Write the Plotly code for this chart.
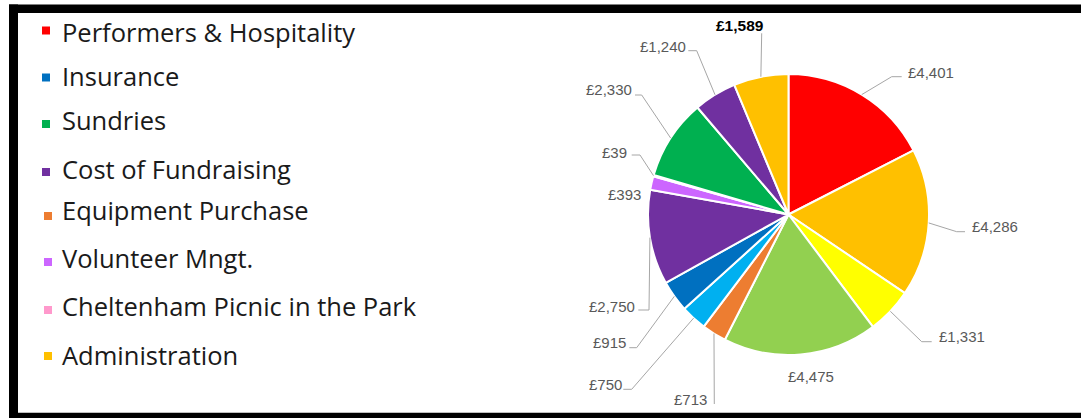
import math
import plotly.graph_objects as go

# ---------------- data (pie slices, clockwise from 12 o'clock) ----------------
slice_names = [
    "Performers & Hospitality", "Category B", "Category C", "Category D",
    "Equipment Purchase", "Category F", "Insurance", "Cost of Fundraising",
    "Volunteer Mngt.", "Cheltenham Picnic in the Park", "Sundries",
    "Category L", "Administration",
]
slice_values = [4401, 4286, 1331, 4475, 713, 750, 915, 2750, 393, 39, 2330, 1240, 1589]
slice_colors = [
    "#FF0000", "#FFC000", "#FFFF00", "#92D050", "#ED7D31", "#00B0F0", "#0070C0",
    "#7030A0", "#CC66FF", "#FF99CC", "#00B050", "#7030A0", "#FFC000",
]

# ---------------- legend (as shown on the slide) ----------------
legend_names = [
    "Performers & Hospitality", "Insurance", "Sundries", "Cost of Fundraising",
    "Equipment Purchase", "Volunteer Mngt.", "Cheltenham Picnic in the Park",
    "Administration",
]
legend_colors = ["#FF0000", "#0070C0", "#00B050", "#7030A0", "#ED7D31", "#CC66FF", "#FF99CC", "#FFC000"]

# ---------------- layout / style (pixels) ----------------
W, H = 1081, 418
CX, CY, R = 788.5, 214.5, 140.5

legend_text_y = [32.5, 76, 120.5, 169, 210, 258, 305.5, 354.5]
legend_square = [(46, 30.5), (46, 77.5), (46, 124), (46, 172), (48, 216), (48, 262), (48, 310), (48, 356)]
legend_text_x = 60

# data-label placement: label centre and leader-line bend/end points
label_style = [
    ((931, 72.5), [(891.7, 76.7), (901.7, 76.7)]),
    ((995, 226), [(956.7, 231.7), (965, 231.7)]),
    ((962, 336), [(921.7, 341.7), (931.7, 341.7)]),
    ((811, 376), []),
    ((690, 399), [(714.3, 404)]),
    ((605, 384), [(631.7, 389.3), (623.3, 389.3)]),
    ((609, 342), [(636.7, 347.7), (629.3, 347.7)]),
    ((612, 306), [(649, 310), (638.3, 310)]),
    ((624, 194), []),
    ((614, 152), [(640, 155), (631.7, 155)]),
    ((609, 89.5), [(641.7, 95), (635, 95)]),
    ((662.5, 46), [(696.7, 50.7), (688.3, 50.7)]),
    ((740, 25.7), [(761.7, 33.3)]),
]
bold_labels = [False] * 12 + [True]


def fx(x):
    return x / W


def fy(y):
    return 1 - y / H


fig = go.Figure()
fig.add_trace(go.Pie(
    labels=slice_names,
    values=slice_values,
    sort=False,
    direction="clockwise",
    rotation=0,
    marker=dict(colors=slice_colors, line=dict(color="white", width=2)),
    textinfo="none",
    showlegend=False,
    domain=dict(x=[fx(CX - R), fx(CX + R)], y=[fy(CY + R), fy(CY - R)]),
    hovertemplate="%{label}: £%{value:,}<extra></extra>",
))

shapes = []
annotations = []

# frame
frame_color = "black"
shapes.append(dict(type="rect", xref="paper", yref="paper", x0=fx(9), x1=fx(W), y0=fy(13), y1=fy(4.5),
                   fillcolor=frame_color, line=dict(width=0), layer="above"))
shapes.append(dict(type="rect", xref="paper", yref="paper", x0=fx(9), x1=fx(18), y0=fy(H), y1=fy(4.5),
                   fillcolor=frame_color, line=dict(width=0), layer="above"))
shapes.append(dict(type="rect", xref="paper", yref="paper", x0=fx(9), x1=fx(W), y0=fy(H), y1=fy(412.7),
                   fillcolor=frame_color, line=dict(width=0), layer="above"))

# data labels + leader lines (anchor derived from slice mid-angle)
total = sum(slice_values)
cum = 0
for i, v in enumerate(slice_values):
    mid = (cum + v / 2) / total * 2 * math.pi
    cum += v
    ax = CX + R * math.sin(mid)
    ay = CY - R * math.cos(mid)
    (lx, ly), pts = label_style[i]
    if pts:
        path = f"M {fx(ax)},{fy(ay)}" + "".join(f" L {fx(px)},{fy(py)}" for px, py in pts)
        shapes.append(dict(type="path", xref="paper", yref="paper", path=path,
                           line=dict(color="#A6A6A6", width=1)))
    bold = bold_labels[i]
    annotations.append(dict(
        x=fx(lx), y=fy(ly), xref="paper", yref="paper", xanchor="center", yanchor="middle",
        text=(f"<b>£{v:,}</b>" if bold else f"£{v:,}"), showarrow=False,
        font=dict(family="Liberation Sans", size=15.5 if bold else 15,
                  color="#000000" if bold else "#595959"),
    ))

# legend
for name, col, ty, (sx, sy) in zip(legend_names, legend_colors, legend_text_y, legend_square):
    s = 4
    shapes.append(dict(type="rect", xref="paper", yref="paper", x0=fx(sx - s), x1=fx(sx + s),
                       y0=fy(sy + s), y1=fy(sy - s), fillcolor=col, line=dict(width=0)))
    annotations.append(dict(
        x=fx(legend_text_x), y=fy(ty), xref="paper", yref="paper", xanchor="left", yanchor="middle",
        text=name, showarrow=False, font=dict(family="Open Sans", size=25.5, color="#1A1A1A"),
    ))

fig.update_layout(
    width=W, height=H, autosize=False,
    margin=dict(l=0, r=0, t=0, b=0, pad=0),
    paper_bgcolor="white", plot_bgcolor="white",
    shapes=shapes, annotations=annotations,
    showlegend=False,
)

fig.write_html(
    "out.html",
    include_plotlyjs=True,
    config={"displayModeBar": False},
    post_script="document.body.style.margin='0';document.body.style.overflow='hidden';",
)
